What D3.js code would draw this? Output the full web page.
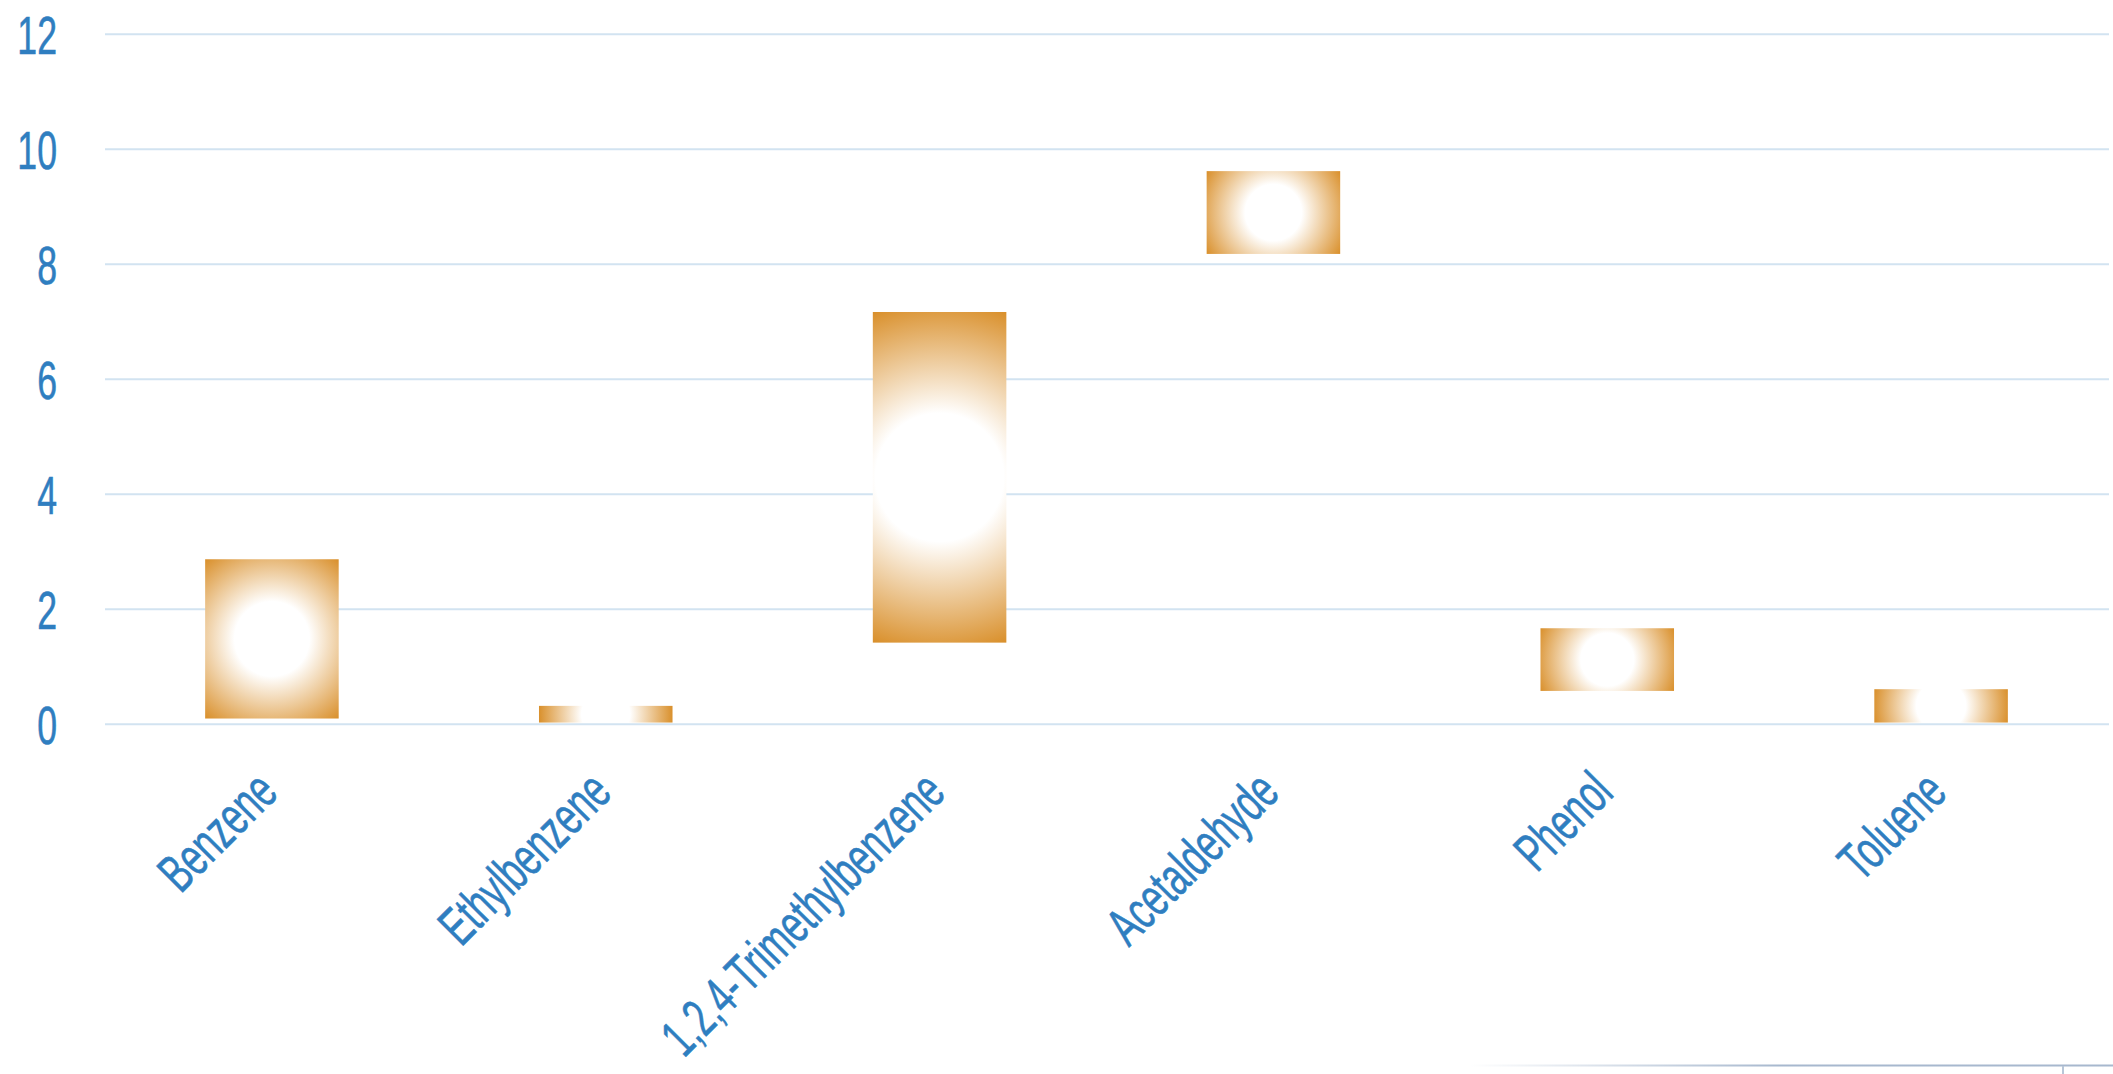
<!DOCTYPE html>
<html>
<head>
<meta charset="utf-8">
<script src="https://cdn.jsdelivr.net/npm/d3@7"></script>
<style>
  html, body { margin: 0; padding: 0; background: #ffffff; }
  svg { display: block; }
  .lbl { font-family: "Liberation Sans", Arial, sans-serif; fill: #2F7EC0; stroke: #2F7EC0; stroke-width: 0.6px; }
</style>
</head>
<body>
<svg id="chart" width="2113" height="1074"></svg>
<script>
// ---- data ----
const categories = ["Benzene", "Ethylbenzene", "1,2,4-Trimethylbenzene", "Acetaldehyde", "Phenol", "Toluene"];
const lowValues  = [0.09, 0.02, 1.41, 8.17, 0.57, 0.02];
const highValues = [2.86, 0.31, 7.16, 9.61, 1.66, 0.60];
const yTicks = [0, 2, 4, 6, 8, 10, 12];

// ---- layout ----
const W = 2113, H = 1074;
const plotLeft = 105, plotRight = 2109, plotTop = 33.7, plotBottom = 723.7;
const fontSize = 54;
const condense = 0.66;
const textColor = "#2F7EC0";
const gridColor = "#D2E3F1";

const svg = d3.select("#chart");

const y = d3.scaleLinear().domain([0, 12]).range([plotBottom, plotTop]);
const x = d3.scaleBand().domain(categories).range([plotLeft, 2108]).paddingInner(0.6).paddingOuter(0.3);

const defs = svg.append("defs");

// bottom-right faint line
const lg = defs.append("linearGradient").attr("id", "fadeLine")
  .attr("gradientUnits", "userSpaceOnUse").attr("x1", 1470).attr("x2", 1780).attr("y1", 0).attr("y2", 0);
lg.append("stop").attr("offset", 0).attr("stop-color", "#A7B8CE").attr("stop-opacity", 0);
lg.append("stop").attr("offset", 1).attr("stop-color", "#A7B8CE").attr("stop-opacity", 1);
svg.append("line").attr("x1", 1470).attr("x2", W).attr("y1", 1065.5).attr("y2", 1065.5)
  .attr("stroke", "url(#fadeLine)").attr("stroke-width", 2);
svg.append("line").attr("x1", 2063).attr("x2", 2063).attr("y1", 1066).attr("y2", 1074)
  .attr("stroke", "#B8C6D8").attr("stroke-width", 2);

// y axis with gridlines
const yAxis = d3.axisLeft(y).tickValues(yTicks).tickSize(-(plotRight - plotLeft)).tickPadding(0);
const yg = svg.append("g").attr("transform", `translate(${plotLeft},0)`).call(yAxis);
yg.select(".domain").remove();
yg.selectAll(".tick line").attr("stroke", gridColor).attr("stroke-width", 2);
yg.selectAll(".tick text")
  .attr("class", "lbl")
  .attr("font-size", fontSize)
  .attr("text-anchor", "end")
  .attr("dy", null)
  .attr("x", null)
  .attr("transform", `translate(${57 - plotLeft},19.5) scale(${condense},1)`);

// bars with radial gradients
const bars = categories.map((c, i) => ({ c, lo: lowValues[i], hi: highValues[i], i }));
bars.forEach(b => {
  const x0 = x(b.c), w = x.bandwidth();
  const yTop = y(b.hi), yBot = y(b.lo);
  const cx = x0 + w / 2, cy = (yTop + yBot) / 2;
  const r = Math.sqrt((w / 2) ** 2 + ((yBot - yTop) / 2) ** 2);
  const g = defs.append("radialGradient").attr("id", "rg" + b.i)
    .attr("gradientUnits", "userSpaceOnUse")
    .attr("cx", cx).attr("cy", cy).attr("r", r).attr("fx", cx).attr("fy", cy);
  g.append("stop").attr("offset", 0).attr("stop-color", "#FFFFFF");
  g.append("stop").attr("offset", 0.36).attr("stop-color", "#FFFFFF");
  g.append("stop").attr("offset", 1).attr("stop-color", "#D98F2A");
});
svg.append("g").selectAll("rect").data(bars).join("rect")
  .attr("x", d => x(d.c))
  .attr("width", x.bandwidth())
  .attr("y", d => y(d.hi))
  .attr("height", d => y(d.lo) - y(d.hi))
  .attr("fill", d => `url(#rg${d.i})`);

// category labels (rotated -45)
svg.append("g").selectAll("text").data(categories).join("text")
  .attr("class", "lbl")
  .attr("font-size", fontSize)
  .attr("text-anchor", "end")
  .attr("transform", d => `translate(${x(d) + x.bandwidth() / 2 + 8},795) rotate(-45) scale(${condense},1)`)
  .text(d => d);
</script>
</body>
</html>
